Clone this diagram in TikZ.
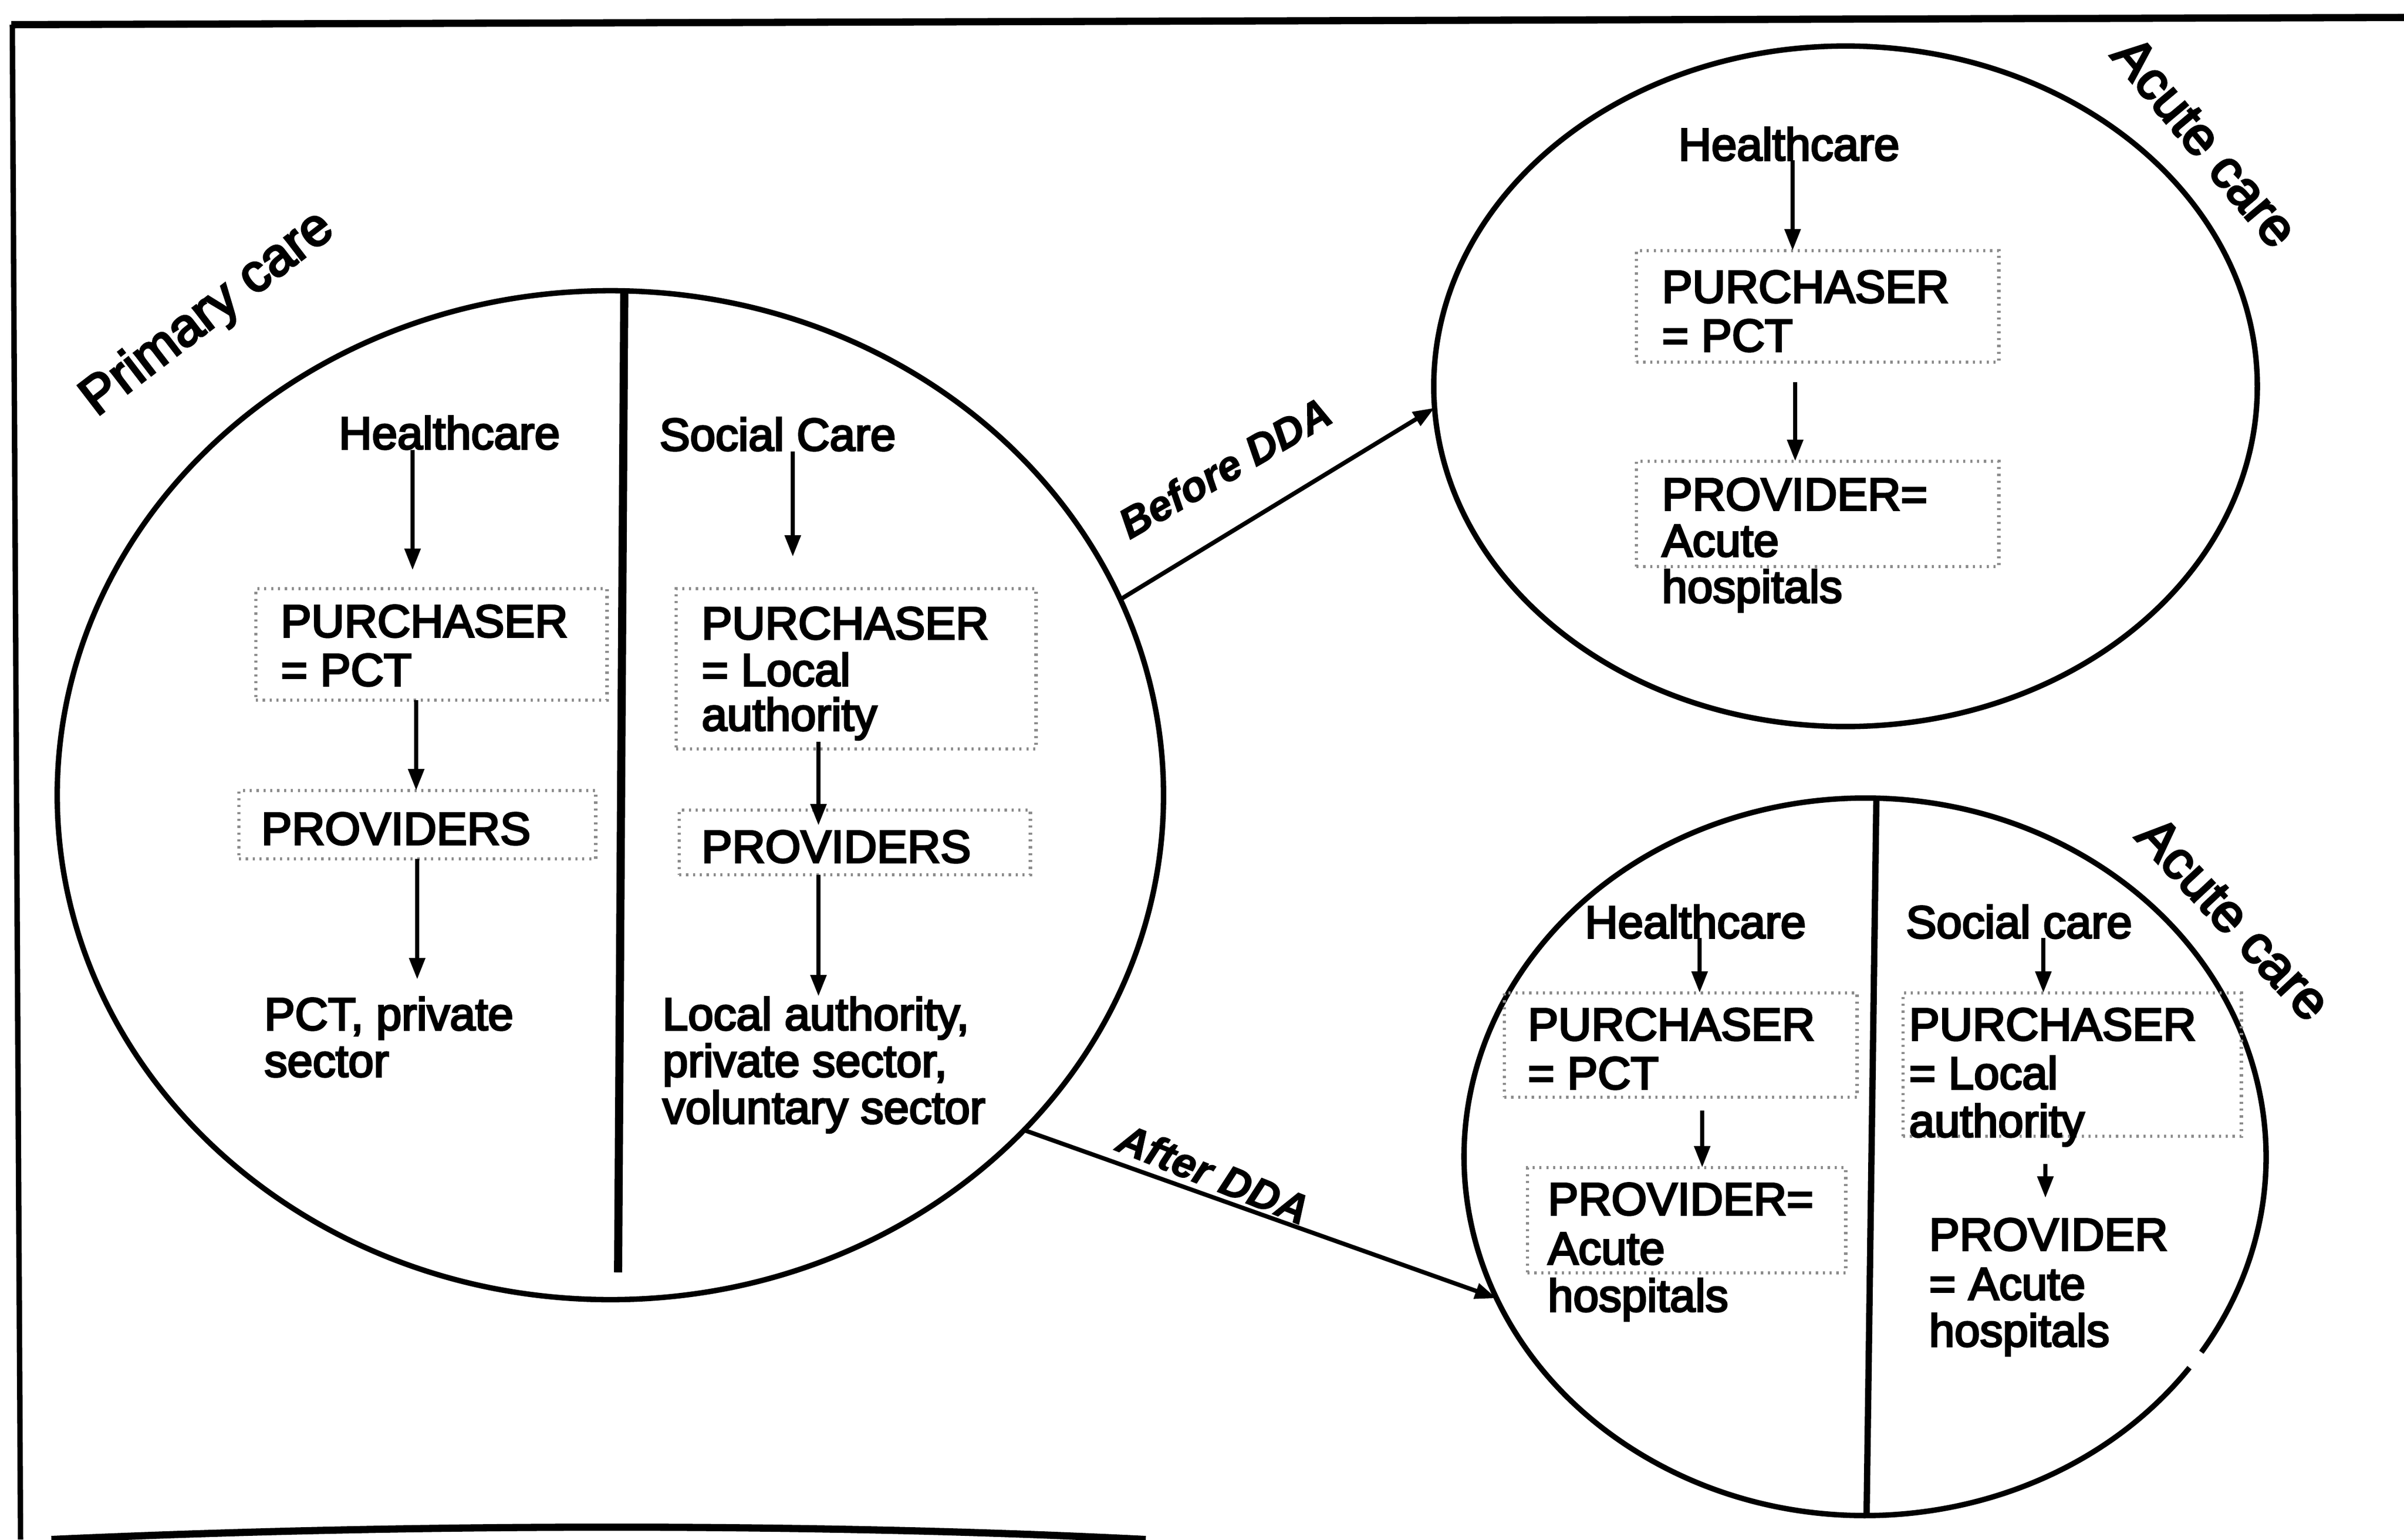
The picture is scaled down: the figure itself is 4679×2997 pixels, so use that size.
\documentclass[tikz,border=0pt]{standalone}
\usepackage{fontspec}
\setmainfont{Liberation Sans}
\newfontfamily\bodyfont{Liberation Sans}[FakeBold=4]
\newfontfamily\labelfont{Liberation Sans Bold Italic}[FakeBold=2]
\usetikzlibrary{arrows.meta,shapes.geometric,calc}
\tikzset{
  txt/.style={inner sep=0pt, anchor=base west, font=\bodyfont\fontsize{25.3}{27}\selectfont},
  ttl/.style={inner sep=0pt, anchor=center, font=\bodyfont\fontsize{29.5}{31}\selectfont},
  lbl/.style={inner sep=0pt, anchor=center, font=\labelfont\fontsize{23.4}{25}\selectfont},
  pbox/.style={draw=black!45, line width=1.8pt, dash pattern=on 1.2pt off 2.6pt, inner sep=0pt, outer sep=0pt, anchor=north west},
  arr/.style={line width=2.4pt, -{Triangle[length=0.42cm,width=0.3cm]}},
  ring/.style={draw, line width=3pt, ellipse, inner sep=0pt, outer sep=0pt},
  divider/.style={line width=4.5pt},
  frameline/.style={line width=4pt},
}
\begin{document}
\begin{tikzpicture}[x=0.01cm,y=-0.01cm]
\useasboundingbox (0,0) rectangle (4679,2997);
% frame
\draw[frameline] (22,48) -- (4679,34);
\draw[line width=3pt] (24,48) -- (40,2997);
\draw[frameline] (100,2997) .. controls (800,2965) and (1600,2965) .. (2230,2997);

% circles
\node[ring, minimum width=21.52cm, minimum height=19.63cm] (primary) at (1188,1548) {};
\node[ring, minimum width=16.02cm, minimum height=13.24cm] (acuteA) at (3592,752) {};
\node[ellipse, inner sep=0pt, outer sep=0pt, minimum width=15.6cm, minimum height=13.96cm] (acuteB) at (3630,2252) {};
\draw[line width=3pt] (acuteB.center) ++(-33:7.8cm and 6.98cm) arc[start angle=-33, end angle=324, x radius=7.8cm, y radius=6.98cm];

% dividers
\draw[divider] (1215,570) -- (1203,2477);
\draw[line width=3.5pt] (3652,1556) -- (3633,2948);

% titles
\node[ttl, rotate=37.5] (ptitle) at (405,612) {Primary care};
\node[ttl, rotate=-50] (atitle1) at (4292,276) {Acute care};
\node[ttl, rotate=-47] (atitle2) at (4348,1788) {Acute care};

% connectors between circles
\draw[arr] (primary.21.9) -- (acuteA.183.6);
\draw[arr] (primary.-39.9) -- (acuteB.201.8);
\node[lbl, rotate=30] (before) at (2384,910) {Before DDA};
\node[lbl, rotate=-22] (after) at (2362,2285) {After DDA};

% ---- primary care, healthcare column
\node[pbox, minimum width=6.83cm, minimum height=2.17cm] (lpur) at (498,1146) {};
\node[pbox, minimum width=6.94cm, minimum height=1.33cm] (lprov) at (465,1539) {};
\node[txt] (lhc) at (659,874) {Healthcare};
\node[txt] (lpurA) at (546,1240) {PURCHASER};
\node[txt] (lpurB) at (546,1335) {= PCT};
\node[txt] (lprovA) at (508,1644) {PROVIDERS};
\node[txt] (lpctA) at (514,2005) {PCT, private};
\node[txt] (lpctB) at (514,2096) {sector};
\coordinate (xa) at (803,0);
\coordinate (xb) at (810,0);
\coordinate (xc) at (812,0);
\draw[arr] (lhc.south -| xa) -- ([yshift=0.36cm]lpur.north -| xa);
\draw[arr] (lpur.south -| xb) -- (lprov.north -| xb);
\draw[arr] (lprov.south -| xc) -- ([yshift=0.33cm]lpctA.north -| xc);

% ---- primary care, social care column
\node[pbox, minimum width=7.0cm, minimum height=3.12cm] (rpur) at (1316,1146) {};
\node[pbox, minimum width=6.83cm, minimum height=1.26cm] (rprov) at (1322,1577) {};
\node[txt] (lsc) at (1283,877) {Social Care};
\node[txt] (rpurA) at (1365,1244) {PURCHASER};
\node[txt] (rpurB) at (1365,1335) {= Local};
\node[txt] (rpurC) at (1365,1422) {authority};
\node[txt] (rprovA) at (1365,1679) {PROVIDERS};
\node[txt] (rlaA) at (1289,2005) {Local authority,};
\node[txt] (rlaB) at (1289,2096) {private sector,};
\node[txt] (rlaC) at (1289,2187) {voluntary sector};
\coordinate (xd) at (1543,0);
\coordinate (xe) at (1593,0);
\draw[arr] (lsc.south -| xd) -- ([yshift=0.62cm]rpur.north -| xd);
\draw[arr] ([yshift=0.14cm]rpur.south -| xe) -- ([yshift=-0.3cm]rprov.north -| xe);
\draw[arr] (rprov.south -| xe) -- (rlaA.north -| xe);

% ---- acute care before DDA
\node[pbox, minimum width=7.05cm, minimum height=2.17cm] (tpur) at (3185,488) {};
\node[pbox, minimum width=7.05cm, minimum height=2.05cm] (tprov) at (3185,898) {};
\node[txt] (thc) at (3266,312) {Healthcare};
\node[txt] (tpurA) at (3234,589) {PURCHASER};
\node[txt] (tpurB) at (3234,684) {= PCT};
\node[txt] (tprovA) at (3234,993) {PROVIDER=};
\node[txt] (tprovB) at (3234,1083) {Acute};
\node[txt] (tprovC) at (3234,1173) {hospitals};
\coordinate (xf) at (3489,0);
\coordinate (xg) at (3494,0);
\draw[arr] (thc.base -| xf) -- (tpur.north -| xf);
\draw[arr] ([yshift=-0.39cm]tpur.south -| xg) -- (tprov.north -| xg);

% ---- acute care after DDA, healthcare
\node[pbox, minimum width=6.86cm, minimum height=2.03cm] (bpur) at (2928,1933) {};
\node[pbox, minimum width=6.19cm, minimum height=2.05cm] (bprov) at (2973,2273) {};
\node[txt] (bhc) at (3084,1826) {Healthcare};
\node[txt] (bpurA) at (2973,2025) {PURCHASER};
\node[txt] (bpurB) at (2973,2120) {= PCT};
\node[txt] (bprovA) at (3012,2365) {PROVIDER=};
\node[txt] (bprovB) at (3012,2461) {Acute};
\node[txt] (bprovC) at (3012,2553) {hospitals};
\coordinate (xh) at (3308,0);
\coordinate (xi) at (3313,0);
\draw[arr] (bhc.base -| xh) -- (bpur.north -| xh);
\draw[arr] ([yshift=-0.26cm]bpur.south -| xi) -- (bprov.north -| xi);

% ---- acute care after DDA, social care
\node[pbox, minimum width=6.58cm, minimum height=2.79cm] (bspur) at (3704,1933) {};
\node[txt] (bsc) at (3709,1826) {Social care};
\node[txt] (bspurA) at (3715,2025) {PURCHASER};
\node[txt] (bspurB) at (3715,2120) {= Local};
\node[txt] (bspurC) at (3715,2213) {authority};
\node[txt] (bsprovA) at (3754,2434) {PROVIDER};
\node[txt] (bsprovB) at (3754,2530) {= Acute};
\node[txt] (bsprovC) at (3754,2621) {hospitals};
\coordinate (xj) at (3977,0);
\coordinate (xk) at (3981,0);
\draw[arr] (bsc.base -| xj) -- (bspur.north -| xj);
\draw[arr] ([yshift=-0.54cm]bspur.south -| xk) -- ([yshift=0.39cm]bsprovA.north -| xk);
\end{tikzpicture}
\end{document}
